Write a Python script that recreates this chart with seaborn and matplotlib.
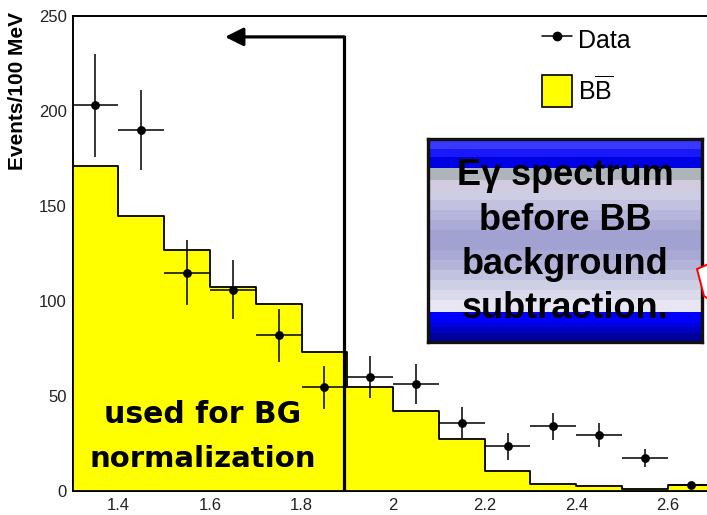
import numpy as np
import pandas as pd
import matplotlib
matplotlib.use("Agg")
import matplotlib.pyplot as plt
from matplotlib.lines import Line2D
from matplotlib.patches import Patch, Polygon, FancyArrowPatch
from matplotlib.ticker import MultipleLocator
import seaborn as sns

# Photon energy binning (GeV)
bin_edges = [1.3, 1.4, 1.5, 1.6, 1.7, 1.8, 1.9, 2.0, 2.1, 2.2, 2.3, 2.4, 2.5, 2.6, 2.7]
bin_centers = [1.35, 1.45, 1.55, 1.65, 1.75, 1.85, 1.95, 2.05, 2.15, 2.25, 2.35, 2.45, 2.55, 2.65]

# BBbar expectation, events per 100 MeV
bb_counts = [171, 144.5, 127, 107.5, 98.5, 73, 55, 42, 27.5, 10.7, 3.9, 2.6, 0.9, 3.0]

# Measured spectrum with its errors
data_counts = [203, 190, 115, 106, 82, 54.5, 60, 56.5, 36, 23.5, 34, 29.5, 17.5, 3.2]
data_errors = [27, 21, 17, 15.5, 14, 11.5, 11, 10.5, 8.3, 7, 7, 6.5, 4.8, 1.7]

# Normalisation window: everything below the cut, arrow pointing down in energy
norm_cut = 1.893
arrow_tip = 1.633
arrow_level = 239

x_ticks = [1.4, 1.6, 1.8, 2.0, 2.2, 2.4, 2.6]
x_tick_labels = ["1.4", "1.6", "1.8", "2", "2.2", "2.4", "2.6"]
y_ticks = [0, 50, 100, 150, 200, 250]

box_lines = ["E\u03b3 spectrum", "before BB", "background", "subtraction."]

sns.set_theme(style="white")
plt.rcParams["font.family"] = ["Liberation Sans", "DejaVu Sans"]
plt.rcParams["text.color"] = "black"
plt.rcParams["axes.labelcolor"] = "black"
plt.rcParams["mathtext.fontset"] = "custom"
plt.rcParams["mathtext.rm"] = "Liberation Sans"
plt.rcParams["mathtext.it"] = "Liberation Sans:italic"
plt.rcParams["mathtext.bf"] = "Liberation Sans:bold"

W, H = 707, 515
fig = plt.figure(figsize=(W / 100, H / 100), dpi=100)
fig.patch.set_facecolor("white")


def fx(px):
    return px / W


def fy(py):
    return 1 - py / H


# main frame; the right part runs past the canvas edge
ax = fig.add_axes([fx(72.5), fy(491), fx(713.7) - fx(72.5), fy(16) - fy(491)])
ax.set_facecolor("white")

df_bb = pd.DataFrame({"E": bin_centers, "n": bb_counts})
sns.histplot(data=df_bb, x="E", weights="n", bins=bin_edges, element="step",
             fill=True, color="#ffff00", alpha=1, edgecolor="black",
             linewidth=1.3, ax=ax, zorder=1)

half_width = np.diff(bin_edges) / 2
ax.errorbar(bin_centers, data_counts, yerr=data_errors, xerr=half_width,
            fmt="none", ecolor="black", elinewidth=1.1, capsize=0, zorder=4)
sns.scatterplot(x=bin_centers, y=data_counts, color="black", s=40,
                linewidth=0, ax=ax, zorder=5)

# normalisation window marker
ax.plot([norm_cut, norm_cut], [0, arrow_level], color="black", lw=2.3,
        solid_capstyle="projecting", zorder=6)
arrow = FancyArrowPatch((norm_cut, arrow_level), (arrow_tip, arrow_level),
                        arrowstyle="-|>,head_length=1.1,head_width=0.55",
                        mutation_scale=10, color="black", lw=2.3,
                        shrinkA=0, shrinkB=0, zorder=6)
ax.add_patch(arrow)

ax.text(1.585, 35.6, "used for BG", ha="center", va="baseline", fontsize=21.5,
        fontweight="bold", family="DejaVu Sans", color="black", zorder=3)
ax.text(1.585, 12.5, "normalization", ha="center", va="baseline", fontsize=21,
        fontweight="bold", family="DejaVu Sans", color="black", zorder=3)

ax.set_xlim(1.3, 2.7)
ax.set_ylim(0, 250)
ax.set_xlabel("")
ax.set_ylabel("")
ax.set_xticks(x_ticks, x_tick_labels)
ax.set_yticks(y_ticks, [str(v) for v in y_ticks])
ax.xaxis.set_minor_locator(MultipleLocator(0.05))
ax.yaxis.set_minor_locator(MultipleLocator(10))
ax.set_axisbelow(True)
ax.tick_params(which="both", direction="in", top=False, right=False,
               color="black", width=1.0)
ax.tick_params(axis="y", which="major", length=13.5, pad=4)
ax.tick_params(axis="y", which="minor", length=7)
ax.tick_params(axis="x", which="major", length=10, pad=5)
ax.tick_params(axis="x", which="minor", length=5)
ax.tick_params(labelsize=12, labelcolor="#222222")
for side, sp in ax.spines.items():
    sp.set_color("black")
    sp.set_linewidth(1.4)
    sp.set_zorder(0.6)
ax.spines["right"].set_visible(False)

fig.text(fx(18), fy(12), "Events/100 MeV", rotation=90, ha="center", va="top",
         fontsize=15, fontweight="bold", color="black")

handles = [Line2D([], [], color="black", marker="o", markersize=6, lw=1.1),
           Patch(facecolor="#ffff00", edgecolor="black", lw=1.2)]
leg = fig.legend(handles, ["Data", r"B$\overline{\mathrm{B}}$"], loc="upper left",
                 bbox_to_anchor=(fx(542), fy(24)), bbox_transform=fig.transFigure,
                 frameon=False, fontsize=18, handlelength=1.2, handleheight=1.6,
                 handletextpad=0.25, labelspacing=0.75, borderpad=0,
                 borderaxespad=0)
for t in leg.get_texts():
    t.set_color("black")

# shaded caption box
box_top, box_bottom = 139.3, 341.7
band_colors = ["#3838ff", "#1818f8", "#0000e4", "#adb5ba", "#d2cade",
               "#cdcde4", "#c2c2e0", "#b6b6dc", "#ababd6", "#a2a2d2",
               "#a9a9d5", "#b4b4da", "#c1c1e0", "#cdcfe5", "#dadaec",
               "#e8e6f2", "#0000ff", "#0000e6", "#0000c4", "#00009c"]
band_bounds = [139.3, 149, 157, 168, 180, 190, 200, 210, 220, 230, 250,
               260, 270, 280, 290, 300, 312, 322, 327, 333, 341.7]
bax = fig.add_axes([fx(428), fy(box_bottom), fx(702) - fx(428),
                    fy(box_top) - fy(box_bottom)])
bax.set_xlim(0, 1)
bax.set_ylim(box_bottom, box_top)
for c, y0, y1 in zip(band_colors, band_bounds[:-1], band_bounds[1:]):
    bax.axhspan(y0, y1, color=c, lw=0)
bax.set_xticks([])
bax.set_yticks([])
for sp in bax.spines.values():
    sp.set_visible(True)
    sp.set_color("#111111")
    sp.set_linewidth(2.4)
for txt, base in zip(box_lines, [185, 229.5, 273.5, 318]):
    bax.text(0.5, base, txt, ha="center", va="baseline", fontsize=26,
             fontweight="bold", color="black")

# corner of a neighbouring callout
fig.add_artist(Polygon([(fx(697), fy(269)), (fx(725), fy(257)),
                        (fx(725), fy(310)), (fx(704), fy(296))],
                       closed=True, facecolor="white", edgecolor="red",
                       lw=1.4, transform=fig.transFigure))

fig.savefig("out.png", dpi=100)
